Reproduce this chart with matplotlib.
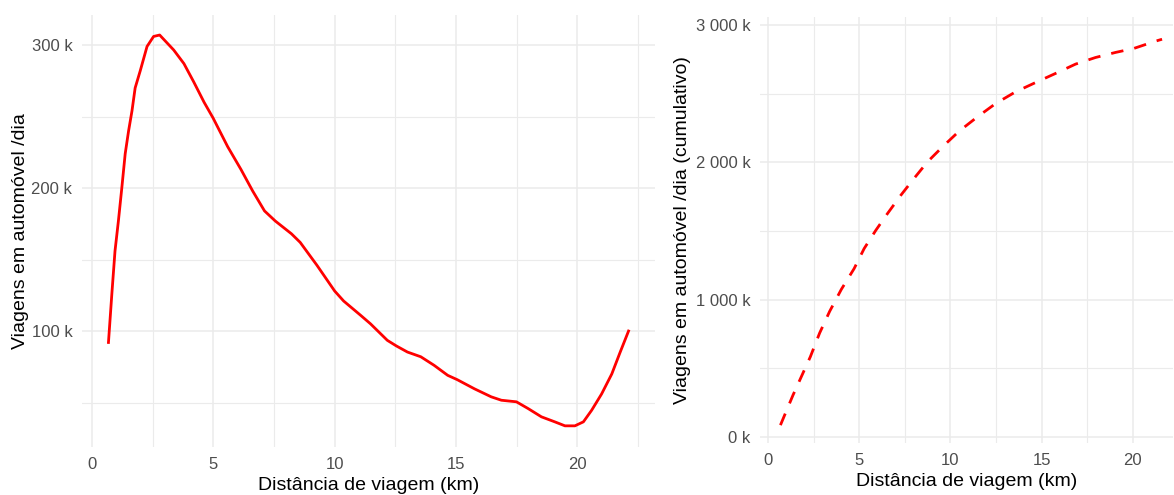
import numpy as np
import matplotlib
matplotlib.use('Agg')
import matplotlib.pyplot as plt
from matplotlib.ticker import FuncFormatter, MultipleLocator

plt.rcParams['font.family'] = ['Liberation Sans', 'DejaVu Sans']

# trips per day by distance (density curve)
dist = [0.68, 0.82, 0.95, 1.09, 1.23, 1.37, 1.51, 1.65, 1.78, 1.99, 2.27, 2.54, 2.79, 3.37,
        3.79, 4.2, 4.62, 4.99, 5.59, 6.14, 6.62, 7.11, 7.55, 8.22, 8.58, 9.27, 10.0, 10.37,
        11.07, 11.48, 12.17, 12.54, 13.0, 13.55, 14.1, 14.66, 15.05, 15.76, 16.45, 16.87,
        17.49, 17.97, 18.52, 19.07, 19.49, 19.9, 20.25, 20.59, 21.0, 21.42, 21.76, 22.11]
trips = [92, 126, 156, 177, 200, 224, 240, 254, 270, 282, 299, 306, 307, 296.5,
         287, 274, 260, 249, 229, 213, 198, 184, 177, 168, 162, 146, 128, 121,
         111, 105, 93.5, 89.6, 85.3, 82, 76, 69, 66, 59.6, 54, 51.6,
         50.5, 45.8, 40, 36.5, 33.7, 33.7, 36.5, 44.6, 56, 70, 85, 100]

# cumulative trips per day
dist_cum = [0.68, 1.37, 2.32, 2.83, 3.38, 4.02, 4.72, 5.27, 5.91, 6.55, 7.28, 8.0, 8.74,
            9.56, 10.47, 11.48, 12.48, 13.57, 14.67, 15.76, 16.86, 17.95, 19.05, 20.05,
            21.24, 21.6]
trips_cum = [86, 305, 584, 757, 915, 1075, 1226, 1372, 1505, 1627, 1760, 1882, 2003,
             2112, 2226, 2331, 2428, 2513, 2581, 2647, 2715, 2763, 2800, 2829,
             2882, 2896]

grey_txt = '#4D4D4D'
grid_c = '#EBEBEB'

fig = plt.figure(figsize=(11.74, 4.95), dpi=100)
W, H = 1174., 495.

def style(ax, xmin, xmax, ymin, ymax, ymaj, fmt):
    ax.set_xlim(xmin, xmax)
    ax.set_ylim(ymin, ymax)
    ax.xaxis.set_major_locator(MultipleLocator(5))
    ax.xaxis.set_minor_locator(MultipleLocator(2.5))
    ax.yaxis.set_major_locator(MultipleLocator(ymaj))
    ax.yaxis.set_minor_locator(MultipleLocator(ymaj / 2.))
    ax.yaxis.set_major_formatter(FuncFormatter(fmt))
    ax.grid(which='major', color=grid_c, lw=1.1)
    ax.grid(which='minor', color=grid_c, lw=0.8)
    ax.set_axisbelow(True)
    for s in ax.spines.values():
        s.set_visible(False)
    ax.tick_params(which='both', length=0, labelsize=12, labelcolor=grey_txt)
    ax.tick_params(axis='x', pad=7)
    ax.tick_params(axis='y', pad=7)
    ax.set_xlabel('Distância de viagem (km)', fontsize=14, labelpad=4)

ax1 = fig.add_axes([82 / W, (H - 447) / H, (655 - 82) / W, (447 - 15) / H])
ax1.plot(dist, trips, color='red', lw=2)
style(ax1, -0.41, 23.2, 18.9, 321, 100, lambda v, p: '%d k' % v)
ax1.set_ylabel('Viagens em automóvel /dia', fontsize=14, labelpad=2)

ax2 = fig.add_axes([760 / W, (H - 443) / H, (1173 - 760) / W, (443 - 17) / H])
ax2.plot(dist_cum, trips_cum, color='red', lw=2, linestyle=(0, (4.5, 4)))
style(ax2, -0.44, 22.2, -44, 3058, 1000,
      lambda v, p: ('%d k' % v) if v < 1000 else '%d %03d k' % (v // 1000, v % 1000))
ax2.set_ylabel('Viagens em automóvel /dia (cumulativo)', fontsize=14, labelpad=3)

plt.savefig('out.png', dpi=100)
